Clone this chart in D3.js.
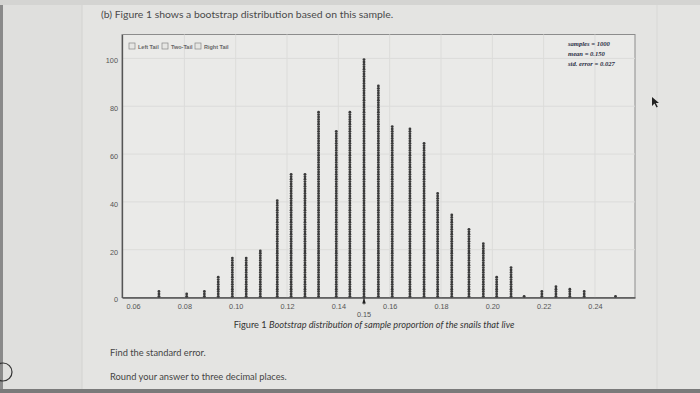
<!DOCTYPE html>
<html><head><meta charset="utf-8">
<script src="https://cdn.jsdelivr.net/npm/d3@7"></script>
<style>
html,body{margin:0;padding:0;background:#e3e3e1;}
svg{display:block;}
</style></head>
<body>
<svg id="chart" width="700" height="393"></svg>
<script>
// ---- data ----
const proportions = [0.0701,0.0809,0.0878,0.0932,0.0987,0.1041,0.1096,0.1162,0.1216,0.1270,
                     0.1323,0.1392,0.1445,0.1500,0.1556,0.1610,0.1679,0.1734,0.1787,0.1842,
                     0.1909,0.1965,0.2017,0.2073,0.2124,0.2193,0.2248,0.2302,0.2358,0.2480];
const counts = [3,2,3,9,17,17,20,41,52,52,
                78,70,78,100,89,72,71,65,44,35,
                29,23,9,13,1,3,5,4,3,1];
const xTicks = [0.06,0.08,0.10,0.12,0.14,0.16,0.18,0.20,0.22,0.24];
const yTicks = [0,20,40,60,80,100];
const legendItems = ["Left Tail","Two-Tail","Right Tail"];
const statLines = ["samples = 1000","mean = 0.150","std. error = 0.027"];
const markedValue = 0.15;
const headerText = "(b) Figure 1 shows a bootstrap distribution based on this sample.";
const captionLead = "Figure 1 ";
const captionRest = "Bootstrap distribution of sample proportion of the snails that live";
const questionLines = ["Find the standard error.","Round your answer to three decimal places."];

const svg = d3.select("#chart");

// page background pieces
svg.append("rect").attr("x",0).attr("y",0).attr("width",700).attr("height",393).attr("fill","#e4e4e2");
svg.append("rect").attr("x",0).attr("y",0).attr("width",82).attr("height",393).attr("fill","#dfdfdd");
svg.append("rect").attr("x",0).attr("y",0).attr("width",3).attr("height",393).attr("fill","#8a8a8a");
svg.append("line").attr("x1",82).attr("x2",82).attr("y1",0).attr("y2",393).attr("stroke","#d2d2d0");
svg.append("line").attr("x1",657).attr("x2",657).attr("y1",0).attr("y2",393).attr("stroke","#d8d8d6");
svg.append("rect").attr("x",0).attr("y",0).attr("width",700).attr("height",5).attr("fill","#d4d4d2");
svg.append("rect").attr("x",0).attr("y",389).attr("width",700).attr("height",4).attr("fill","#7a7a7a");

// header
svg.append("text").attr("x",101).attr("y",17.5)
  .attr("font-family","Lato, 'Open Sans', sans-serif").attr("font-size",10.4)
  .attr("fill","#4a4a4a").text(headerText);

// plot geometry
const L = 122, R = 635, T = 34.5, B = 297.5;
const x = d3.scaleLinear().domain([0.0557, 0.2556]).range([L, R]);
const y = d3.scaleLinear().domain([0, 110]).range([B, T]);

svg.append("rect").attr("x",L).attr("y",T).attr("width",R-L).attr("height",B-T)
  .attr("fill","#eaeae8").attr("stroke","#8c8c8c").attr("stroke-width",1);

// gridlines
svg.append("g").selectAll("line").data(xTicks.slice(1)).join("line")
  .attr("x1",d=>x(d)).attr("x2",d=>x(d)).attr("y1",T).attr("y2",B)
  .attr("stroke","#dcdcda").attr("stroke-width",1);
svg.append("g").selectAll("line").data(yTicks.slice(1)).join("line")
  .attr("x1",L).attr("x2",R).attr("y1",d=>y(d)).attr("y2",d=>y(d))
  .attr("stroke","#dcdcda").attr("stroke-width",1);

// axes (labels only, no tick marks)
const yAxis = d3.axisLeft(y).tickValues(yTicks).tickSize(0).tickPadding(4).tickFormat(d3.format("d"));
const gy = svg.append("g").attr("transform",`translate(${L},0)`).call(yAxis);
gy.select(".domain").attr("stroke","#555").attr("stroke-width",1.3);
gy.selectAll("text").attr("font-family","'Liberation Sans', Arial, sans-serif").attr("font-size",7.3)
  .attr("fill","#555").attr("dy","0.6em");

const xAxis = d3.axisBottom(x).tickValues(xTicks).tickSize(0).tickPadding(6).tickFormat(d3.format(".2f"));
const gx = svg.append("g").attr("transform",`translate(0,${B})`).call(xAxis);
gx.select(".domain").attr("stroke","#555").attr("stroke-width",1.3);
gx.selectAll("text").attr("font-family","'Liberation Sans', Arial, sans-serif").attr("font-size",7.3)
  .attr("fill","#555");

// dot stacks
const stacks = proportions.map((p,i)=>({p, n: counts[i]}));
svg.append("g").selectAll("g").data(stacks).join("g")
  .selectAll("circle").data(d=>d3.range(d.n).map(k=>({p:d.p,k}))).join("circle")
  .attr("cx",d=>x(d.p)).attr("cy",d=>y(d.k+0.5)).attr("r",1.4).attr("fill","#3a3a3a");

// marker at observed value
const mx = x(markedValue);
svg.append("path").attr("d",`M${mx},${B+0.5} L${mx-1.8},${B+6} L${mx+1.8},${B+6} Z`).attr("fill","#222");
svg.append("line").attr("x1",mx).attr("x2",mx).attr("y1",B).attr("y2",B+7).attr("stroke","#222").attr("stroke-width",0.8);
svg.append("text").attr("x",mx).attr("y",B+19).attr("text-anchor","middle")
  .attr("font-family","'Liberation Sans', Arial, sans-serif").attr("font-size",7.3).attr("fill","#555")
  .text(d3.format(".2f")(markedValue));

// legend checkboxes
const lg = svg.append("g").attr("font-family","'Liberation Sans', Arial, sans-serif").attr("font-size",5.5)
  .attr("font-weight","bold").attr("fill","#666");
const lx = [129, 162, 195];
legendItems.forEach((t,i)=>{
  lg.append("rect").attr("x",lx[i]).attr("y",43).attr("width",6).attr("height",6)
    .attr("fill","#e6e6e4").attr("stroke","#888").attr("stroke-width",0.7);
  lg.append("text").attr("x",lx[i]+9).attr("y",48.5).text(t);
});

// stats box
svg.append("g").selectAll("text").data(statLines).join("text")
  .attr("x",568).attr("y",(d,i)=>46+i*10)
  .attr("font-family","'Liberation Serif', 'Times New Roman', serif").attr("font-size",6.6)
  .attr("font-style","italic").attr("font-weight","bold").attr("fill","#2b2f45").text(d=>d);

// caption
const cap = svg.append("text").attr("x",374).attr("y",328).attr("text-anchor","middle")
  .attr("font-family","Lato, 'Open Sans', sans-serif").attr("font-size",9.2).attr("fill","#333");
cap.append("tspan").text(captionLead);
cap.append("tspan").attr("font-style","italic").text(captionRest);

// question text
svg.append("g").selectAll("text").data(questionLines).join("text")
  .attr("x",110).attr("y",(d,i)=>356+i*24)
  .attr("font-family","Lato, 'Open Sans', sans-serif").attr("font-size",9.3).attr("fill","#444").text(d=>d);

// cursor and partial icon
svg.append("path").attr("d","M652,97 L652,106 L654.5,103.5 L656.5,107.5 L657.8,106.8 L655.8,103 L659,103 Z").attr("fill","#222");
svg.append("circle").attr("cx",3).attr("cy",372).attr("r",9).attr("fill","none").attr("stroke","#333").attr("stroke-width",1.2);
</script>
</body></html>
